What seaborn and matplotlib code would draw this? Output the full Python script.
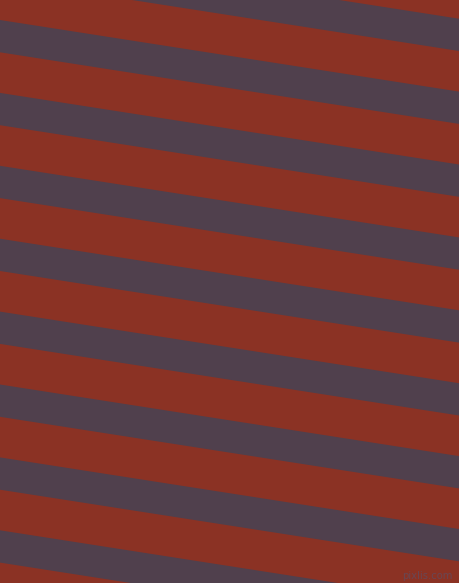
import matplotlib
matplotlib.use("Agg")
import matplotlib.pyplot as plt
import seaborn as sns
import numpy as np
import pandas as pd

# Stripe data (pixel units, y measured downward at the left edge x=0)
band_tops = [-52.9, 20.0, 92.9, 165.8, 238.7, 311.6, 384.5, 457.4, 530.3]
band_height = 32.3
band_slope = 0.156
x_span = [0, 460]
bg_color = "#8B3224"
band_color = "#50404D"
watermark = "pixlis.com"

sns.set_style("white")

fig = plt.figure(figsize=(4.6, 5.83), dpi=100)
ax = fig.add_axes([0, 0, 1, 1])
ax.set_facecolor(bg_color)
fig.patch.set_facecolor(bg_color)

xs = np.array(x_span, dtype=float)
df = pd.DataFrame({"top": band_tops})
for t in df["top"]:
    y1 = t + band_slope * xs
    y2 = t + band_height + band_slope * xs
    ax.fill_between(xs, y1, y2, color=band_color, linewidth=0, antialiased=True)

ax.set_xlim(0, 460)
ax.set_ylim(583, 0)
ax.axis("off")

ax.text(453, 576, watermark, ha="right", va="center", fontsize=7.2,
        color="#5e4d62", alpha=0.75, family="DejaVu Sans")

fig.savefig("out.png", dpi=100, facecolor=bg_color)
